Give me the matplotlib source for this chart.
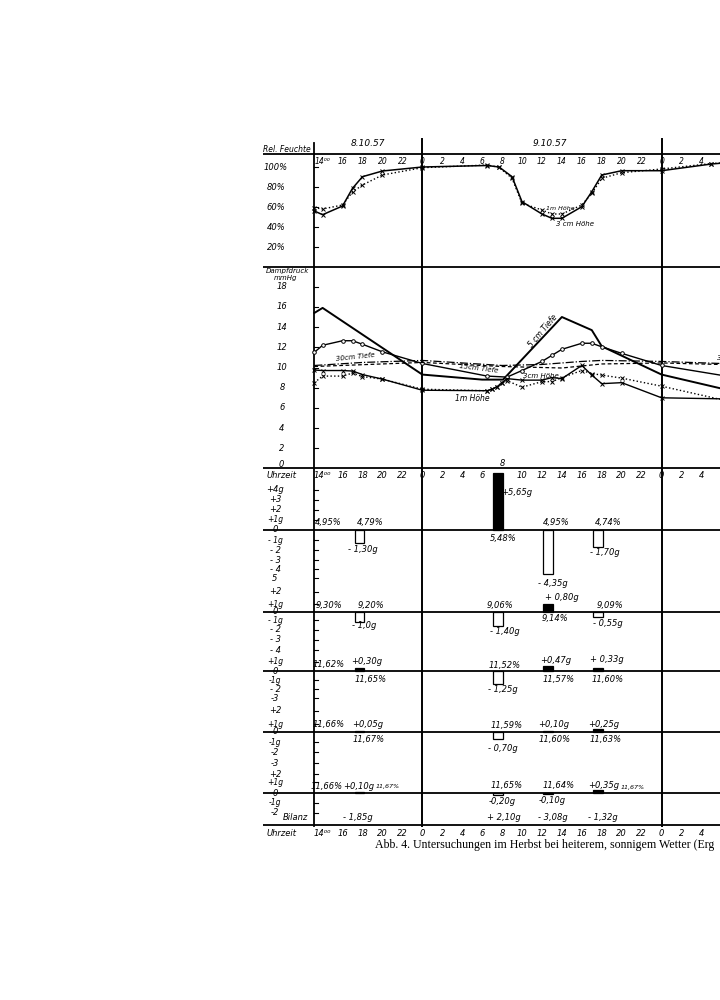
import matplotlib
matplotlib.use("Agg")
import matplotlib.pyplot as plt

# hours counted from 8.10.57, 0 Uhr
rh_hours = [13.17, 14, 16, 17, 18, 20, 24, 30.5, 31.7, 33, 34, 36, 37, 38, 40, 41, 42, 44, 48, 53, 53.86]
rh_3cm = [56, 52.3, 61, 78.7, 90.3, 96, 100, 101.5, 100, 90.3, 65.3, 53, 48.7, 48.7, 60.3, 75.3, 92, 96.3, 96.3, 103, 103.7]
rh_1m = [59.3, 58, 62, 75, 82, 92, 99.3, 102, 99.7, 88.7, 63.7, 57, 53, 53, 62, 73.7, 88.7, 94.3, 98, 103.5, 104]

vp5_hours = [13.17, 14, 24, 30, 32.1, 38, 41, 42, 48, 53.86]
vp_5cm = [15.4, 15.9, 9.3, 8.8, 8.8, 15.0, 13.7, 12.1, 9.3, 7.95]
vp15_hours = [13.17, 14, 16, 17, 18, 20, 24, 30.5, 32.5, 34, 36, 37, 38, 40, 41, 42, 44, 48, 53.86]
vp_15cm = [11.5, 12.2, 12.65, 12.65, 12.3, 11.55, 10.4, 9.15, 9.05, 9.7, 10.6, 11.2, 11.8, 12.4, 12.4, 12.05, 11.4, 10.2, 9.25]
vp30_hours = [13.17, 18, 24, 32, 36, 40, 42, 48, 53.86]
vp_30cm = [10.2, 10.5, 10.7, 10.2, 10.3, 10.6, 10.7, 10.6, 10.4]
vp50_hours = [13.17, 24, 32, 38, 42, 48, 53.86]
vp_50cm = [10.1, 10.5, 10.1, 9.95, 10.35, 10.45, 10.3]
vpa_hours = [13.17, 14, 16, 17, 18, 20, 24, 30.5, 31, 31.5, 32, 32.5, 34, 36, 37, 38, 40, 41, 42, 44, 48, 53.86]
vp_3cm = [9.75, 9.7, 9.7, 9.65, 9.3, 8.85, 7.75, 7.7, 7.85, 8.1, 8.5, 8.9, 8.75, 8.75, 9.0, 8.9, 10.2, 9.25, 8.4, 8.5, 7.0, 6.9]
vp_1m = [8.5, 9.15, 9.15, 9.45, 9.1, 8.85, 7.85, 7.7, 7.85, 8.1, 8.5, 8.7, 8.05, 8.6, 8.6, 9.0, 9.7, 9.4, 9.25, 8.95, 8.15, 6.85]

# weight change in g per layer, one bar per measuring interval
bar_hours = [17.2, 31.1, 36.1, 41.1]
gain_1 = [-1.30, 5.65, -4.35, -1.70]
gain_2 = [-1.0, -1.40, 0.80, -0.55]
gain_3 = [0.30, -1.25, 0.47, 0.33]
gain_4 = [0.05, -0.70, 0.10, 0.25]
gain_5 = [0.10, -0.20, -0.10, 0.35]
bilanz = [a + b + c + d + e for a, b, c, d, e in zip(gain_1, gain_2, gain_3, gain_4, gain_5)]

hour_ticks = list(range(14, 53, 2))

W, H = 720, 1000
X0, X1 = 263, 720
MID, PXH = 422.3, 9.97      # px of 9.10. 0 Uhr, px per hour
PXG = 10.1                  # px per g / per mmHg
AXIS_H = 13.17

plt.rcParams['font.family'] = ['DejaVu Sans']
plt.rcParams['font.style'] = 'italic'


def hx(px):
    return 24 + (px - MID) / PXH


XL = (hx(X0), hx(X1))

fig = plt.figure(figsize=(7.2, 10), dpi=100)


def band(top, bottom, lo, hi):
    ax = fig.add_axes([X0 / W, 1 - bottom / H, (X1 - X0) / W, (bottom - top) / H])
    ax.set_xlim(*XL)
    ax.set_ylim(lo, hi)
    ax.axis('off')
    return ax


def tick(ax, v):
    ax.plot([AXIS_H, AXIS_H + 0.35], [v, v], color='k', lw=0.8)


frame = band(0, 1000, 1000, 0)
frame.plot([AXIS_H, AXIS_H], [143, 826], color='k', lw=1.3)
for h in (24, 48):
    frame.plot([h, h], [139, 826], color='k', lw=1.4)
for py in (154, 266.7, 468.3, 825):
    frame.plot(XL, [py, py], color='k', lw=1.3)

fs = 6
frame.text(hx(287), 149, "Rel. Feuchte", fontsize=5.5, ha='center', va='center')
frame.text(hx(368), 143, "8.10.57", fontsize=6.5, ha='center', va='center')
frame.text(hx(550), 143, "9.10.57", fontsize=6.5, ha='center', va='center')


def hour_label(h):
    return "14\u2070\u2070" if h == 14 else str(h % 24)


for h in hour_ticks:
    frame.text(h, 162, hour_label(h), fontsize=5.5, ha='center', va='center')
    frame.text(h, 463 if h == 32 else 475, hour_label(h), fontsize=6, ha='center', va='center')
    frame.text(h, 833, hour_label(h), fontsize=6, ha='center', va='center')
frame.text(hx(282), 475, "Uhrzeit", fontsize=6, ha='center', va='center')
frame.text(hx(282), 833, "Uhrzeit", fontsize=6, ha='center', va='center')

# relative humidity
ax = band(154, 267, 0, 113)
ax.plot(rh_hours, rh_3cm, color='k', lw=1.1, marker='x', ms=2.5, mew=0.7, markevery=list(range(len(rh_hours) - 1)))
ax.plot(rh_hours, rh_1m, color='k', lw=1.0, ls=':', marker='x', ms=2.5, mew=0.7, markevery=list(range(len(rh_hours) - 1)))
for v in (100, 80, 60, 40, 20):
    ax.text(hx(276), v, f"{v}%", fontsize=fs, ha='center', va='center')
    tick(ax, v)
ax.text(hx(560), 58, "1m Höhe", fontsize=4.5, ha='center', va='center')
ax.text(hx(575), 43, "3 cm Höhe", fontsize=5, ha='center', va='center')

# vapour pressure
ax = band(266.7, 468.5, 0, 201.8 / PXG)
ax.plot(vp5_hours, vp_5cm, color='k', lw=1.4)
ax.plot(vp15_hours, vp_15cm, color='k', lw=1.0, marker='o', ms=2.6, mfc='white', mew=0.7,
        markevery=list(range(len(vp15_hours) - 1)))
ax.plot(vp30_hours, vp_30cm, color='k', lw=0.9, ls='-.')
ax.plot(vp50_hours, vp_50cm, color='k', lw=0.9, ls=(0, (3, 2)))
ax.plot(vpa_hours, vp_3cm, color='k', lw=1.0, marker='x', ms=2.5, mew=0.7, markevery=list(range(len(vpa_hours) - 1)))
ax.plot(vpa_hours, vp_1m, color='k', lw=1.0, ls=':', marker='x', ms=2.5, mew=0.7, markevery=list(range(len(vpa_hours) - 1)))
ax.text(hx(287), 19.55, "Dampfdruck", fontsize=5, ha='center', va='center')
ax.text(hx(286), 18.85, "mmHg", fontsize=5, ha='center', va='center')
for v in range(18, 0, -2):
    ax.text(hx(282), v, str(v), fontsize=fs, ha='center', va='center')
    tick(ax, v)
ax.text(hx(281), 0.35, "0", fontsize=fs, ha='center', va='center')
ax.text(hx(355), 11.05, "30cm Tiefe", fontsize=5, ha='center', va='center', rotation=6)
ax.text(hx(479), 9.9, "15cm Tiefe", fontsize=5, ha='center', va='center', rotation=-7)
ax.text(hx(543), 13.6, "5 cm Tiefe", fontsize=5.5, ha='center', va='center', rotation=50)
ax.text(hx(541), 9.15, "3cm Höhe", fontsize=5, ha='center', va='center')
ax.text(hx(472), 6.95, "1m Höhe", fontsize=5.5, ha='center', va='center')
ax.text(hx(717), 10.9, "30cm Tiefe", fontsize=5, ha='left', va='center')

# weight change panels
panels = [
    (468.5, 590, 530, gain_1,
     [(4, "+4g"), (3, "+3"), (2, "+2"), (1, "+1g"), (0, "0"), (-1, "- 1g"), (-2, "- 2"), (-3, "- 3"), (-3.9, "- 4"), (-4.8, "5")],
     [(14.57, 0.72, "4,95%"), (18.75, 0.72, "4,79%"), (18.02, -1.98, "- 1,30g"), (33.43, 3.73, "+5,65g"),
      (32.1, -0.82, "5,48%"), (37.48, 0.72, "4,95%"), (42.6, 0.72, "4,74%"), (37.14, -5.28, "- 4,35g"),
      (42.36, -2.25, "- 1,70g")]),
    (590, 655, 611.7, gain_2,
     [(2, "+2"), (0.75, "+1g"), (0, "0"), (-0.85, "- 1g"), (-1.8, "- 2"), (-2.8, "- 3"), (-3.8, "- 4")],
     [(14.62, 0.59, "9,30%"), (18.83, 0.59, "9,20%"), (18.13, -1.32, "- 1,0g"), (31.76, 0.59, "9,06%"),
      (32.26, -1.98, "- 1,40g"), (37.98, 1.43, "+ 0,80g"), (37.31, -0.72, "9,14%"), (42.83, 0.59, "9,09%"),
      (42.58, -1.15, "- 0,55g")]),
    (655, 705, 671, gain_3,
     [(0.92, "+1g"), (0, "0"), (-0.9, "-1g"), (-1.8, "- 2"), (-2.7, "-3")],
     [(14.64, 0.69, "11,62%"), (18.42, 0.92, "+0,30g"), (18.8, -0.82, "11,65%"), (32.26, 0.59, "11,52%"),
      (32.1, -1.81, "- 1,25g"), (37.39, 1.02, "+0,47g"), (37.64, -0.82, "11,57%"), (42.5, 1.16, "+ 0,33g"),
      (42.63, -0.82, "11,60%")]),
    (705, 770, 731.7, gain_4,
     [(2.05, "+2"), (0.73, "+1g"), (0, "0"), (-1.05, "-1g"), (-2.05, "-2"), (-3.1, "-3")],
     [(14.61, 0.73, "11,66%"), (18.53, 0.73, "+0,05g"), (18.64, -0.75, "11,67%"), (32.42, 0.66, "11,59%"),
      (32.12, -1.64, "- 0,70g"), (37.14, 0.73, "+0,10g"), (37.31, -0.75, "11,60%"), (42.24, 0.73, "+0,25g"),
      (42.41, -0.75, "11,63%")]),
    (770, 825, 793.3, gain_5,
     [(1.9, "+2"), (1.1, "+1g"), (0, "0"), (-0.95, "-1g"), (-1.95, "-2")],
     [(14.41, 0.72, "11,66%"), (17.6, 0.72, "+0,10g"), (20.55, 0.72, "11,67%"), (32.43, 0.82, "11,65%"),
      (32.04, -0.83, "-0,20g"), (37.64, 0.82, "11,64%"), (36.98, -0.73, "-0,10g"), (42.24, 0.82, "+0,35g"),
      (45.13, 0.6, "11,67%")]),
]

for top, bottom, zero, gains, ylabels, notes in panels:
    ax = band(top, bottom, -(bottom - zero) / PXG, (zero - top) / PXG)
    ax.axhline(0, color='k', lw=1.3)
    colors = ['k' if g > 0 else 'white' for g in gains]
    ax.bar(bar_hours, gains, width=1.0, align='edge', color=colors, edgecolor='k', linewidth=0.9)
    for v, s in ylabels:
        ax.text(hx(275), v, s, fontsize=5.5 if abs(v) < 1.2 and v else fs, ha='center', va='center')
        if v != 0:
            tick(ax, v)
    for h, v, s in notes:
        small = s == "11,67%" and h > 20
        ax.text(h, v, s, fontsize=4.6 if small else fs, ha='center', va='center')
    last = ax

last.text(hx(295), -2.35, "Bilanz", fontsize=fs, ha='center', va='center')
for h, b in zip([17.58, 32.17, 37.06, 42.16], bilanz):
    sign = "+ " if b > 0 else "- "
    last.text(h, -2.35, sign + f"{abs(b):.2f}".replace('.', ',') + "g", fontsize=fs, ha='center', va='center')

fig.text(375 / W, 1 - 845 / H, "Abb. 4. Untersuchungen im Herbst bei heiterem, sonnigem Wetter (Erg",
         family='Liberation Serif', style='normal', fontsize=8.6, ha='left', va='center')

fig.savefig("out.png", dpi=100, facecolor='white')
